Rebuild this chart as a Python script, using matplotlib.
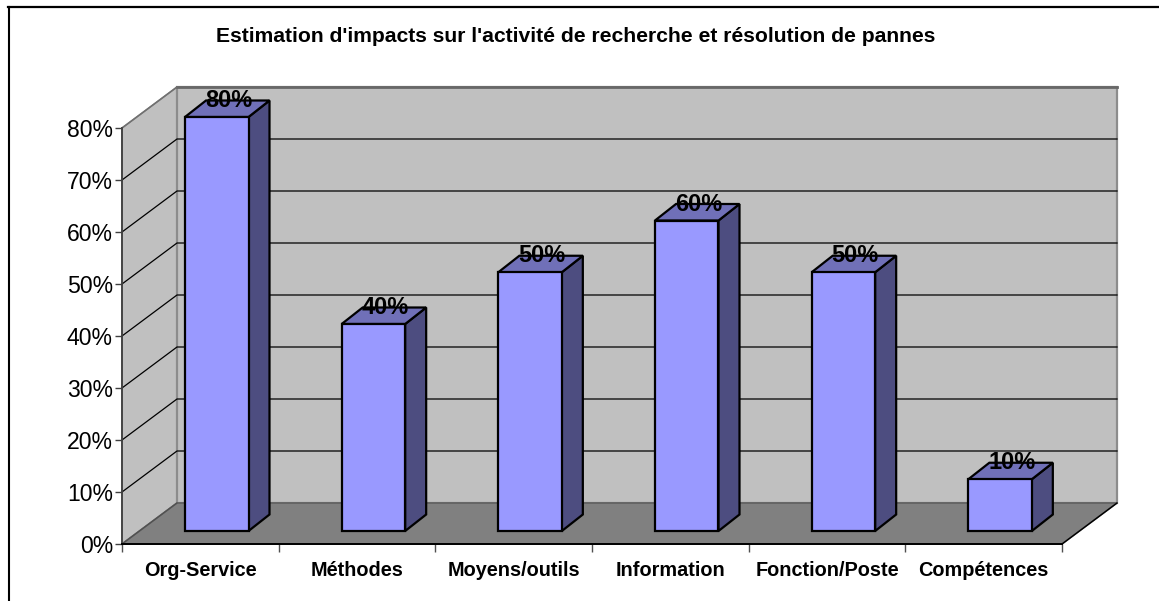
import matplotlib
matplotlib.use("Agg")
import matplotlib.pyplot as plt
from matplotlib.patches import Polygon
from matplotlib.lines import Line2D

categories = ["Org-Service", "Méthodes", "Moyens/outils", "Information", "Fonction/Poste", "Compétences"]
values = [80, 40, 50, 60, 50, 10]
y_ticks = [0, 10, 20, 30, 40, 50, 60, 70, 80]
title = "Estimation d'impacts sur l'activité de recherche et résolution de pannes"

W, H = 1159, 601
plt.rcParams['font.family'] = ['Liberation Sans', 'DejaVu Sans']

X0, X1 = 122.0, 1062.0
Y0, Y80 = 544.0, 128.0
sx = (X1 - X0) / len(categories)
sy = (Y0 - Y80) / 80.0
DX = 55.0 / sx          # wall depth in category units
DY = 41.0 / sy          # wall depth in percent units

fig = plt.figure(figsize=(W / 100, H / 100), dpi=100, facecolor="white")
ax = fig.add_axes([0, 0, 1, 1], facecolor="none")
ax.set_xlim(-X0 / sx, (W - X0) / sx)
ax.set_ylim(-(H - Y0) / sy, Y0 / sy)

n = len(categories)
top = max(y_ticks)


def poly(pts, fc, ec, lw, z):
    ax.add_patch(Polygon(pts, closed=True, fc=fc, ec=ec, lw=lw, zorder=z, joinstyle="miter"))


# walls and floor
poly([(0, 0), (DX, DY), (DX, top + DY), (0, top)], "#C0C0C0", "#808080", 1.2, 1)
poly([(DX, DY), (n + DX, DY), (n + DX, top + DY), (DX, top + DY)], "#C0C0C0", "#8C8C8C", 1.6, 1)
ax.plot([DX, n + DX], [top + DY, top + DY], color="#686868", lw=2.0, zorder=2)
poly([(0, 0), (n, 0), (n + DX, DY), (DX, DY)], "#808080", "#606060", 1.2, 2)

# gridlines
for t in y_ticks[1:-1]:
    ax.plot([0, DX, n + DX], [t, t + DY, t + DY], color="black", lw=0.9, zorder=2)
ax.plot([0, DX], [top, top + DY], color="#707070", lw=1.0, zorder=2)
ax.plot([n, n + DX], [0, DY], color="black", lw=1.0, zorder=3)
ax.plot([0, DX], [0, DY], color="#505050", lw=0.8, zorder=3)

# bars
bar_w = 63.5 / sx
bar_dx = 21.0 / sx
bar_dy = 16.5 / sy
base_y = (Y0 - 531.0) / sy
offset = (185.0 - X0) / sx
bar_scale = 414.0 / (80 * sy)   # bars stand further back than the front plane
label_dx = 43.5 / sx
label_dy = 16.5 / sy
ec = "black"
for i, v in enumerate(values):
    l = i + offset
    r = l + bar_w
    t = base_y + v * bar_scale
    poly([(r, base_y), (r + bar_dx, base_y + bar_dy), (r + bar_dx, t + bar_dy), (r, t)], "#4D4D80", ec, 1.6, 5)
    poly([(l, t), (r, t), (r + bar_dx, t + bar_dy), (l + bar_dx, t + bar_dy)], "#7070B8", ec, 1.6, 5)
    poly([(l, base_y), (r, base_y), (r, t), (l, t)], "#9999FF", ec, 1.6, 5)
    ax.text(l + label_dx, t + label_dy, f"{v}%", ha="center", va="center",
            fontsize=17, fontweight="bold", color="black", zorder=6)

# axes
for s in ("top", "right"):
    ax.spines[s].set_visible(False)
ax.spines["left"].set_position(("data", 0))
ax.spines["left"].set_bounds(0, top)
ax.spines["left"].set_color("#404040")
ax.spines["left"].set_linewidth(1.3)
ax.spines["left"].set_zorder(4)
ax.spines["bottom"].set_position(("data", 0))
ax.spines["bottom"].set_bounds(0, n)
ax.spines["bottom"].set_linewidth(1.4)
ax.spines["bottom"].set_zorder(4)
ax.set_yticks(y_ticks)
ax.set_yticklabels([f"{t}%" for t in y_ticks], fontsize=16.6)
ax.tick_params(axis="y", length=5, width=1.0, color="#404040", pad=1.5)
ax.set_xticks(range(n + 1))
ax.set_xticklabels([])
ax.tick_params(axis="x", length=6, width=1.0, color="#505050")
ax.set_xticks([i + 0.5 for i in range(n)], minor=True)
ax.set_xticklabels(categories, minor=True, fontsize=14.3, fontweight="bold")
ax.tick_params(axis="x", which="minor", length=0, pad=12)

fig.text(576 / W, 1 - 37 / H, title, ha="center", va="center", fontsize=15.2, fontweight="bold")

# chart frame: only the top and left edges fall inside the picture
fig.add_artist(Line2D([8.5 / W, 8.5 / W], [0, 1 - 6.5 / H], transform=fig.transFigure, color="black", lw=1.5))
fig.add_artist(Line2D([7.5 / W, 1], [1 - 7 / H, 1 - 7 / H], transform=fig.transFigure, color="black", lw=1.6))

fig.savefig("out.png", dpi=100, facecolor="white")
